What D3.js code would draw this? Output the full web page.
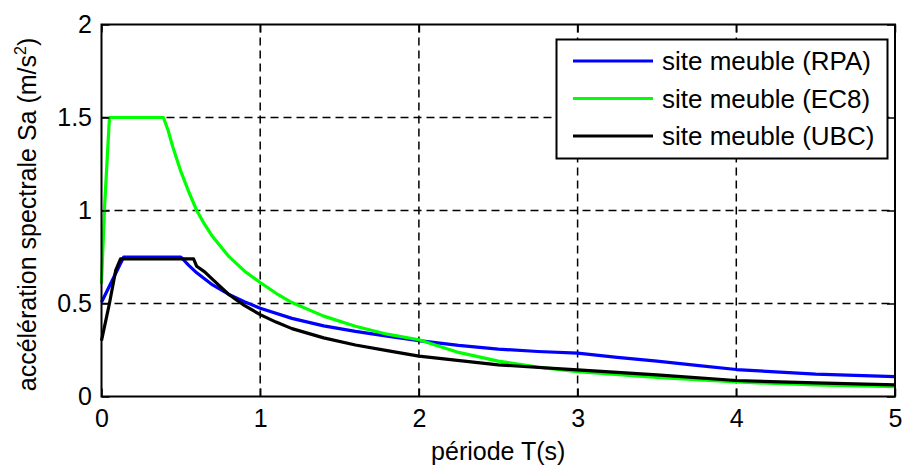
<!DOCTYPE html>
<html>
<head>
<meta charset="utf-8">
<script src="https://cdn.jsdelivr.net/npm/d3@7"></script>
<style>
  body { margin: 0; background: #fff; }
  text { font-family: "Liberation Sans", Arial, sans-serif; }
</style>
</head>
<body>
<div id="chart"></div>
<script>
// periods (s) and spectral accelerations (m/s2)
const tRPA = [0, 0.14, 0.5, 0.55, 0.6, 0.7, 0.8, 0.9, 1.0, 1.2, 1.4, 1.6, 1.8, 2.0, 2.25, 2.5, 2.75, 3.0, 3.25, 3.5, 3.75, 4.0, 4.5, 5.0];
const saRPA = [0.507, 0.75, 0.75, 0.705, 0.665, 0.6, 0.55, 0.51, 0.474, 0.42, 0.38, 0.35, 0.325, 0.3, 0.275, 0.255, 0.242, 0.233, 0.21, 0.19, 0.167, 0.145, 0.12, 0.107];

const tEC8 = [0, 0.02, 0.05, 0.39, 0.42, 0.45, 0.5, 0.55, 0.6, 0.65, 0.7, 0.8, 0.9, 1.0, 1.1, 1.2, 1.4, 1.6, 1.8, 2.0, 2.25, 2.5, 2.75, 3.0, 3.5, 4.0, 4.5, 5.0];
const saEC8 = [0.606, 1.03, 1.5, 1.5, 1.43, 1.34, 1.21, 1.1, 1.0, 0.925, 0.86, 0.755, 0.675, 0.613, 0.555, 0.505, 0.432, 0.378, 0.335, 0.305, 0.237, 0.19, 0.158, 0.134, 0.102, 0.078, 0.062, 0.053];

const tUBC = [0, 0.05, 0.09, 0.12, 0.58, 0.6, 0.65, 0.7, 0.8, 0.9, 1.0, 1.1, 1.2, 1.4, 1.6, 1.8, 2.0, 2.5, 3.0, 3.5, 4.0, 4.5, 5.0];
const saUBC = [0.3, 0.5, 0.68, 0.74, 0.74, 0.7, 0.67, 0.63, 0.55, 0.49, 0.44, 0.4, 0.365, 0.315, 0.277, 0.247, 0.217, 0.17, 0.143, 0.116, 0.086, 0.073, 0.062];

const seriesNames = ["site meuble (RPA)", "site meuble (EC8)", "site meuble (UBC)"];
const seriesColors = ["#0000ff", "#00ff00", "#000000"];

const xTicks = [0, 1, 2, 3, 4, 5];
const xTickLabels = ["0", "1", "2", "3", "4", "5"];
const yTicks = [0, 0.5, 1, 1.5, 2];
const yTickLabels = ["0", "0.5", "1", "1.5", "2"];

const width = 906, height = 465;
const margin = { left: 101.5, right: 11, top: 24.5, bottom: 68.5 };
const fontSize = 25;
const legendFontSize = 26;

const svg = d3.select("#chart")
  .append("svg")
  .attr("width", width)
  .attr("height", height);

const x = d3.scaleLinear().domain([0, 5]).range([margin.left, width - margin.right]);
const y = d3.scaleLinear().domain([0, 2]).range([height - margin.bottom, margin.top]);

// dashed grid
const grid = svg.append("g")
  .attr("stroke", "#000")
  .attr("stroke-width", 1.5)
  .attr("stroke-dasharray", "8,5");

grid.selectAll("line.gx")
  .data(xTicks.slice(1, -1))
  .enter()
  .append("line")
  .attr("x1", d => x(d)).attr("x2", d => x(d))
  .attr("y1", y(2)).attr("y2", y(0));

grid.selectAll("line.gy")
  .data(yTicks.slice(1, -1))
  .enter()
  .append("line")
  .attr("x1", x(0)).attr("x2", x(5))
  .attr("y1", d => y(d)).attr("y2", d => y(d));

// curves
const series = [
  { t: tRPA, sa: saRPA },
  { t: tEC8, sa: saEC8 },
  { t: tUBC, sa: saUBC },
];

const line = d3.line()
  .x(d => x(d[0]))
  .y(d => y(d[1]));

series.forEach((s, i) => {
  svg.append("path")
    .datum(s.t.map((t, j) => [t, s.sa[j]]))
    .attr("fill", "none")
    .attr("stroke", seriesColors[i])
    .attr("stroke-width", 3.2)
    .attr("stroke-linejoin", "round")
    .attr("d", line);
});

// axes with ticks pointing inward
const xAxis = svg.append("g")
  .attr("transform", `translate(0,${y(0)})`)
  .call(d3.axisBottom(x).tickValues(xTicks).tickFormat((d, i) => xTickLabels[i])
    .tickSizeInner(-8).tickSizeOuter(0).tickPadding(12.5));

const xAxisTop = svg.append("g")
  .attr("transform", `translate(0,${y(2)})`)
  .call(d3.axisTop(x).tickValues(xTicks).tickFormat("")
    .tickSizeInner(-8).tickSizeOuter(0));

const yAxis = svg.append("g")
  .attr("transform", `translate(${x(0)},0)`)
  .call(d3.axisLeft(y).tickValues(yTicks).tickFormat((d, i) => yTickLabels[i])
    .tickSizeInner(-8).tickSizeOuter(0).tickPadding(9.5));

const yAxisRight = svg.append("g")
  .attr("transform", `translate(${x(5)},0)`)
  .call(d3.axisRight(y).tickValues(yTicks).tickFormat("")
    .tickSizeInner(-8).tickSizeOuter(0));

[xAxis, xAxisTop, yAxis, yAxisRight].forEach(a => {
  a.select(".domain").remove();
  a.selectAll(".tick line").attr("stroke", "#000").attr("stroke-width", 1.5);
  a.selectAll("text")
    .attr("fill", "#000")
    .style("font-size", fontSize + "px")
    .style("font-family", '"Liberation Sans", Arial, sans-serif');
});

// plot box
svg.append("rect")
  .attr("x", x(0))
  .attr("y", y(2))
  .attr("width", x(5) - x(0))
  .attr("height", y(0) - y(2))
  .attr("fill", "none")
  .attr("stroke", "#000")
  .attr("stroke-width", 2);

// axis titles
svg.append("text")
  .attr("x", (x(0) + x(5)) / 2)
  .attr("y", 460)
  .attr("text-anchor", "middle")
  .style("font-size", fontSize + "px")
  .text("période T(s)");

const yTitle = svg.append("text")
  .attr("transform", `translate(36,${(y(0) + y(2)) / 2 + 4}) rotate(-90)`)
  .attr("text-anchor", "middle")
  .style("font-size", fontSize + "px");
yTitle.append("tspan").text("accélération spectrale Sa (m/s");
yTitle.append("tspan").attr("dy", -10).style("font-size", "16px").text("2");
yTitle.append("tspan").attr("dy", 10).text(")");

// legend
const legend = svg.append("g");
legend.append("rect")
  .attr("x", 556.5)
  .attr("y", 39.5)
  .attr("width", 331)
  .attr("height", 119)
  .attr("fill", "#fff")
  .attr("stroke", "#000")
  .attr("stroke-width", 2);

const rowY = [61, 98.5, 136];
seriesNames.forEach((name, i) => {
  legend.append("line")
    .attr("x1", 573).attr("x2", 653)
    .attr("y1", rowY[i]).attr("y2", rowY[i])
    .attr("stroke", seriesColors[i])
    .attr("stroke-width", 3.2);
  legend.append("text")
    .attr("x", 662)
    .attr("y", rowY[i] + 9)
    .style("font-size", legendFontSize + "px")
    .text(name);
});
</script>
</body>
</html>
